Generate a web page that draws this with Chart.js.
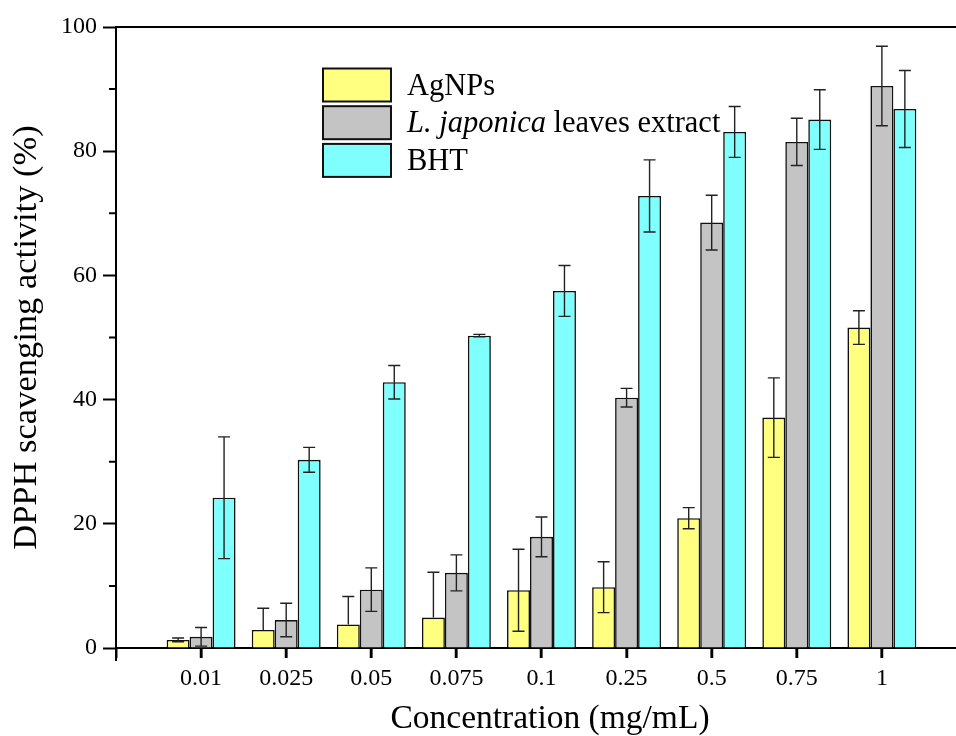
<!DOCTYPE html>
<html><head><meta charset="utf-8">
<script src="https://cdn.jsdelivr.net/npm/chart.js@4.4.1/dist/chart.umd.min.js"></script>
<style>html,body{margin:0;padding:0;background:#fff;overflow:hidden;width:956px;height:736px;} canvas{display:block;}</style>
</head><body>
<canvas id="c" width="984" height="736"></canvas>
<script>
const categories = ['0.01', '0.025', '0.05', '0.075', '0.1', '0.25', '0.5', '0.75', '1'];
const agnps      = [1.3, 2.9, 3.8, 4.9, 9.3, 9.8, 20.9, 37.1, 51.6];
const agnpsErr   = [0.3, 3.5, 4.5, 7.3, 6.6, 4.1, 1.7, 6.4, 2.7];
const extract    = [1.8, 4.5, 9.4, 12.1, 17.9, 40.3, 68.5, 81.5, 90.5];
const extractErr = [1.5, 2.7, 3.5, 2.9, 3.2, 1.5, 4.4, 3.8, 6.4];
const bht        = [24.2, 30.3, 42.8, 50.3, 57.5, 72.8, 83.1, 85.1, 86.8];
const bhtErr     = [9.8, 2.0, 2.7, 0.2, 4.1, 5.8, 4.1, 4.8, 6.2];
const seriesNames   = ['AgNPs', 'L. japonica leaves extract', 'BHT'];
const italicPrefix  = ['', 'L. japonica', ''];
const seriesColors  = ['#FFFF80', '#C4C4C4', '#80FFFF'];
const yTicks = [0, 20, 40, 60, 80, 100];
const yMinorTicks = [10, 30, 50, 70, 90];

const FONT = "'Liberation Serif', 'Times New Roman', serif";

const toPoints = arr => arr.map((v, i) => ({ x: i + 1, y: v }));

const errorBars = {
  id: 'errorBars',
  afterDatasetsDraw(chart) {
    const ctx = chart.ctx, ys = chart.scales.y;
    chart.data.datasets.forEach((ds, i) => {
      const meta = chart.getDatasetMeta(i);
      meta.data.forEach((el, j) => {
        const v = ds.data[j].y, e = ds.errors[j];
        const x = el.x, half = 6;
        const top = ys.getPixelForValue(v + e);
        const low = v - e;
        const bot = low >= 0 ? ys.getPixelForValue(low) : el.y;
        ctx.save();
        ctx.strokeStyle = '#222';
        ctx.lineWidth = 1.4;
        ctx.beginPath();
        ctx.moveTo(x, top); ctx.lineTo(x, bot);
        ctx.moveTo(x - half, top); ctx.lineTo(x + half, top);
        if (low >= 0) { ctx.moveTo(x - half, bot); ctx.lineTo(x + half, bot); }
        ctx.stroke();
        ctx.restore();
      });
    });
  }
};

const frameAndLegend = {
  id: 'frameAndLegend',
  afterDraw(chart) {
    const ctx = chart.ctx, ca = chart.chartArea, ys = chart.scales.y, xs = chart.scales.x;
    ctx.save();
    ctx.strokeStyle = '#000';
    ctx.lineWidth = 2;
    // top frame line
    ctx.beginPath();
    ctx.moveTo(ca.left, ca.top);
    ctx.lineTo(ca.right, ca.top);
    ctx.stroke();
    // minor y ticks
    ctx.beginPath();
    yMinorTicks.forEach(v => {
      const p = ys.getPixelForValue(v);
      ctx.moveTo(ca.left - 7, p);
      ctx.lineTo(ca.left, p);
    });
    ctx.stroke();
    // category tick marks below the x axis
    ctx.lineWidth = 2.5;
    ctx.beginPath();
    categories.forEach((_, i) => {
      const p = Math.round(xs.getPixelForValue(i + 1));
      ctx.moveTo(p, ca.bottom);
      ctx.lineTo(p, ca.bottom + 10);
    });
    ctx.stroke();
    ctx.lineWidth = 2;
    ctx.beginPath();
    ctx.moveTo(ca.left, ca.bottom);
    ctx.lineTo(ca.left, ca.bottom + 13);
    ctx.stroke();
    // legend
    const lx = ca.left + 207, ly = ca.top + 41.5, bw = 68, bh = 33, pitch = 37.7, tx = ca.left + 291;
    chart.data.datasets.forEach((ds, i) => {
      const by = ly + i * pitch;
      ctx.fillStyle = ds.backgroundColor;
      ctx.fillRect(lx, by, bw, bh);
      ctx.lineWidth = 2;
      ctx.strokeStyle = '#111';
      ctx.strokeRect(lx, by, bw, bh);
      ctx.fillStyle = '#000';
      ctx.textBaseline = 'alphabetic';
      ctx.textAlign = 'left';
      const base = by + 26;
      let x = tx;
      const name = seriesNames[i], pre = italicPrefix[i];
      if (pre) {
        ctx.font = 'italic 30.5px ' + FONT;
        ctx.fillText(pre, x, base);
        x += ctx.measureText(pre).width;
      }
      ctx.font = '30.5px ' + FONT;
      ctx.fillText(name.slice(pre.length), x, base);
    });
    ctx.restore();
  }
};

const makeDs = (i, vals, errs) => ({
  label: seriesNames[i],
  data: toPoints(vals),
  errors: errs,
  backgroundColor: seriesColors[i],
  borderColor: '#111',
  borderWidth: 1.6,
  categoryPercentage: 0.81,
  barPercentage: 1.0
});

new Chart(document.getElementById('c'), {
  type: 'bar',
  data: {
    datasets: [
      makeDs(0, agnps, agnpsErr),
      makeDs(1, extract, extractErr),
      makeDs(2, bht, bhtErr)
    ]
  },
  options: {
    responsive: false,
    animation: false,
    devicePixelRatio: 1,
    layout: { padding: { top: 27, right: 0, left: 0, bottom: 0 } },
    plugins: { legend: { display: false }, tooltip: { enabled: false } },
    scales: {
      x: {
        type: 'linear', min: 0, max: 10.2, z: 1, offset: false,
        afterBuildTicks(s) { s.ticks = [{ value: 0 }].concat(categories.map((_, i) => ({ value: i + 1 }))); },
        ticks: {
          callback: (v) => categories[v - 1] ?? '',
          font: { family: FONT, size: 24 }, color: '#000', padding: 6,
          maxRotation: 0, autoSkip: false
        },
        grid: { offset: false, drawOnChartArea: false, tickLength: 10, tickWidth: 2, tickColor: '#000' },
        border: { display: true, color: '#000', width: 2 },
        title: {
          display: true, text: 'Concentration (mg/mL)', color: '#000',
          font: { family: FONT, size: 33.5, lineHeight: 1 }, padding: { top: 0, bottom: 0 }
        },
        afterFit(s) { s.height = 88; }
      },
      y: {
        min: 0, max: 100, z: 1,
        afterBuildTicks(s) { s.ticks = yTicks.map(v => ({ value: v })); },
        ticks: { font: { family: FONT, size: 24 }, color: '#000', padding: 6 },
        grid: { drawOnChartArea: false, tickLength: 13, tickWidth: 2, tickColor: '#000' },
        border: { display: true, color: '#000', width: 2 },
        title: {
          display: true, text: 'DPPH scavenging activity (%)', color: '#000',
          font: { family: FONT, size: 34.5, lineHeight: 1 }, padding: { top: 10, bottom: 0 }
        },
        afterFit(s) { s.width = 116; }
      }
    }
  },
  plugins: [errorBars, frameAndLegend]
});
</script>
</body></html>
